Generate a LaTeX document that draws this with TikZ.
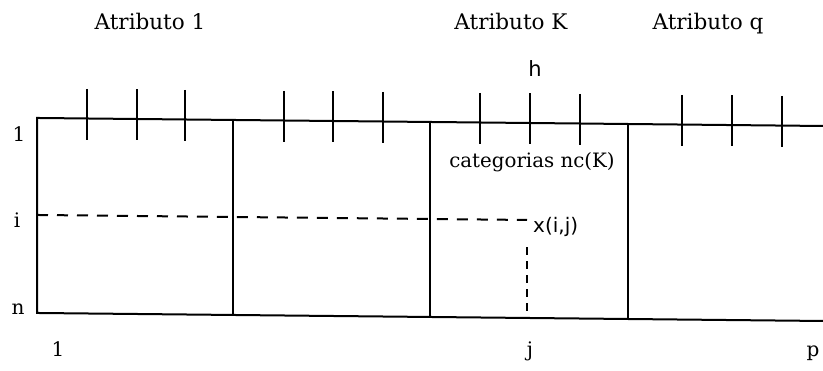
\documentclass[tikz,border=0pt]{standalone}
\usepackage{fontspec}
\setmainfont{DejaVu Serif}
\newfontfamily\geneva{DejaVu Sans}

\begin{document}
\begin{tikzpicture}[x=1pt, y=-1pt,
    rule/.style={line width=2pt},
    dashrule/.style={line width=2pt, dash pattern=on 11pt off 9pt},
    tickmark/.style={line width=2pt},
    lbl/.style={anchor=base, inner sep=0pt, font=\fontsize{21.5}{24}\selectfont},
    catlbl/.style={anchor=base, inner sep=0pt, font=\fontsize{19.8}{22}\selectfont},
    rowlbl/.style={anchor=base, inner sep=0pt, font=\fontsize{20}{22}\selectfont},
    sanslbl/.style={anchor=base, inner sep=0pt, font=\geneva\fontsize{20}{22}\selectfont}]
    \useasboundingbox (0,0) rectangle (823,371);
    % the scanned table leans a little
    \begin{scope}[x={(1pt,-0.0102pt)}]
        \draw[rule] (823,117.6) -- (37,117.6) -- (37,312.6) -- (823,312.6);
        \foreach \c in {233, 430, 628}
            \draw[rule] (\c,117.6) -- (\c,312.6);
        \foreach \t in {87, 137, 185, 284, 333, 383, 480, 530, 580, 682, 732, 782}
            \draw[tickmark] (\t,88) -- (\t,139);
        \coordinate (xij) at (527,214.6);
        \draw[dashrule] (37,214.6) -- (xij);
        \draw[line width=2pt, dash pattern=on 8pt off 6pt] (527,242) -- (527,312.6);
    \end{scope}
    % attribute headings
    \node[lbl] (attr1) at (150,30) {Atributo 1};
    \node[lbl] (attrK) at (511,30) {Atributo K};
    \node[lbl] (attrq) at (708,30) {Atributo q};
    \node[sanslbl, font=\geneva\fontsize{21}{23}\selectfont] (h) at (535,77) {h};
    \node[catlbl] (cat) at (532,168) {categorias nc(K)};
    \node[sanslbl, anchor=base west] (xijlbl) at (533,233) {x(i,j)};
    % rows and columns
    \node[rowlbl] (row1) at (19,142) {1};
    \node[rowlbl] (rowi) at (17,228) {i};
    \node[rowlbl] (rown) at (18,315) {n};
    \node[rowlbl] (col1) at (58,357) {1};
    \node[rowlbl] (colj) at (530,357) {j};
    \node[rowlbl] (colp) at (813,357) {p};
\end{tikzpicture}
\end{document}
